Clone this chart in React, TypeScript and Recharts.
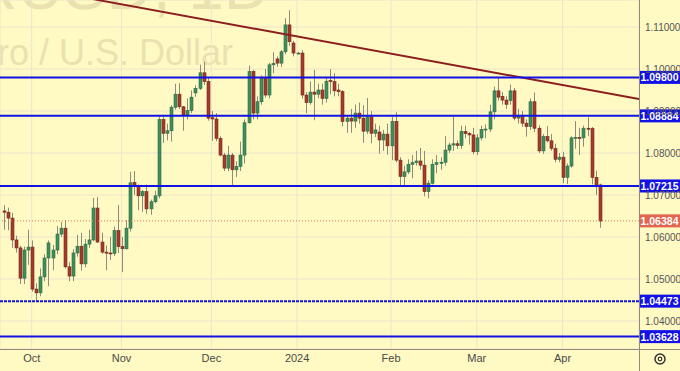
import { ComposedChart, Bar, XAxis, YAxis, CartesianGrid, ReferenceLine } from 'recharts';

// EUR/USD daily, 21 Sep 2023 – 12 Apr 2024
const dates = [
  '2023-09-21', '2023-09-22', '2023-09-25', '2023-09-26', '2023-09-27', '2023-09-28', '2023-09-29',
  '2023-10-02', '2023-10-03', '2023-10-04', '2023-10-05', '2023-10-06', '2023-10-09', '2023-10-10', '2023-10-11',
  '2023-10-12', '2023-10-13', '2023-10-16', '2023-10-17', '2023-10-18', '2023-10-19', '2023-10-20', '2023-10-23',
  '2023-10-24', '2023-10-25', '2023-10-26', '2023-10-27', '2023-10-30', '2023-10-31',
  '2023-11-01', '2023-11-02', '2023-11-03', '2023-11-06', '2023-11-07', '2023-11-08', '2023-11-09', '2023-11-10',
  '2023-11-13', '2023-11-14', '2023-11-15', '2023-11-16', '2023-11-17', '2023-11-20', '2023-11-21', '2023-11-22',
  '2023-11-23', '2023-11-24', '2023-11-27', '2023-11-28', '2023-11-29', '2023-11-30',
  '2023-12-01', '2023-12-04', '2023-12-05', '2023-12-06', '2023-12-07', '2023-12-08', '2023-12-11', '2023-12-12',
  '2023-12-13', '2023-12-14', '2023-12-15', '2023-12-18', '2023-12-19', '2023-12-20', '2023-12-21', '2023-12-22',
  '2023-12-25', '2023-12-26', '2023-12-27', '2023-12-28', '2023-12-29',
  '2024-01-01', '2024-01-02', '2024-01-03', '2024-01-04', '2024-01-05', '2024-01-08', '2024-01-09', '2024-01-10',
  '2024-01-11', '2024-01-12', '2024-01-15', '2024-01-16', '2024-01-17', '2024-01-18', '2024-01-19', '2024-01-22',
  '2024-01-23', '2024-01-24', '2024-01-25', '2024-01-26', '2024-01-29', '2024-01-30', '2024-01-31',
  '2024-02-01', '2024-02-02', '2024-02-05', '2024-02-06', '2024-02-07', '2024-02-08', '2024-02-09', '2024-02-12',
  '2024-02-13', '2024-02-14', '2024-02-15', '2024-02-16', '2024-02-19', '2024-02-20', '2024-02-21', '2024-02-22',
  '2024-02-23', '2024-02-26', '2024-02-27', '2024-02-28', '2024-02-29',
  '2024-03-01', '2024-03-04', '2024-03-05', '2024-03-06', '2024-03-07', '2024-03-08', '2024-03-11', '2024-03-12',
  '2024-03-13', '2024-03-14', '2024-03-15', '2024-03-18', '2024-03-19', '2024-03-20', '2024-03-21', '2024-03-22',
  '2024-03-25', '2024-03-26', '2024-03-27', '2024-03-28', '2024-03-29',
  '2024-04-01', '2024-04-02', '2024-04-03', '2024-04-04', '2024-04-05', '2024-04-08', '2024-04-09', '2024-04-10',
  '2024-04-11', '2024-04-12',
];

const opens = [
  1.0662, 1.0659, 1.0645, 1.0593, 1.0574, 1.0502, 1.0569,
  1.0576, 1.0476, 1.0467, 1.0505, 1.0550, 1.0550, 1.0569, 1.0607, 1.0621, 1.0529, 1.0507, 1.0562, 1.0578, 1.0536,
  1.0583, 1.0593, 1.0669, 1.0588, 1.0564, 1.0562, 1.0561, 1.0615,
  1.0577, 1.0572, 1.0621, 1.0730, 1.0720, 1.0698, 1.0708, 1.0667, 1.0684, 1.0698, 1.0880, 1.0847, 1.0853, 1.0909,
  1.0940, 1.0910, 1.0890, 1.0901, 1.0943, 1.0954, 1.0991, 1.0970,
  1.0884, 1.0881, 1.0835, 1.0795, 1.0764, 1.0795, 1.0760, 1.0768, 1.0795, 1.0872, 1.0994, 1.0895, 1.0922, 1.0980,
  1.0938, 1.1010, 1.1024, 1.1014, 1.1041, 1.1105, 1.1062,
  1.1038, 1.1038, 1.0938, 1.0920, 1.0945, 1.0940, 1.0950, 1.0930, 1.0973, 1.0970, 1.0950, 1.0946, 1.0875, 1.0883,
  1.0876, 1.0895, 1.0883, 1.0852, 1.0886, 1.0847, 1.0850, 1.0831, 1.0845,
  1.0817, 1.0875, 1.0783, 1.0744, 1.0755, 1.0773, 1.0777, 1.0781, 1.0771, 1.0708, 1.0728, 1.0773, 1.0775, 1.0778,
  1.0807, 1.0819, 1.0822, 1.0818, 1.0851, 1.0846, 1.0843,
  1.0803, 1.0836, 1.0856, 1.0857, 1.0898, 1.0948, 1.0935, 1.0926, 1.0925, 1.0948, 1.0883, 1.0890, 1.0871, 1.0863,
  1.0922, 1.0859, 1.0805, 1.0839, 1.0829, 1.0811, 1.0785,
  1.0790, 1.0742, 1.0769, 1.0836, 1.0837, 1.0836, 1.0859, 1.0858, 1.0742, 1.0724,
];

const highs = [
  1.0676, 1.0670, 1.0657, 1.0603, 1.0579, 1.0577, 1.0617,
  1.0592, 1.0490, 1.0525, 1.0559, 1.0592, 1.0581, 1.0626, 1.0636, 1.0640, 1.0540, 1.0571, 1.0605, 1.0610, 1.0595,
  1.0617, 1.0693, 1.0695, 1.0610, 1.0580, 1.0600, 1.0625, 1.0676,
  1.0600, 1.0640, 1.0755, 1.0757, 1.0725, 1.0712, 1.0725, 1.0689, 1.0710, 1.0887, 1.0887, 1.0870, 1.0914, 1.0965,
  1.0966, 1.0912, 1.0930, 1.0949, 1.0961, 1.1010, 1.1017, 1.0980,
  1.0900, 1.0895, 1.0840, 1.0800, 1.0817, 1.0800, 1.0780, 1.0827, 1.0880, 1.1008, 1.0998, 1.0935, 1.0985, 1.1000,
  1.1015, 1.1040, 1.1030, 1.1045, 1.1121, 1.1140, 1.1067,
  1.1041, 1.1045, 1.0945, 1.0970, 1.0998, 1.0965, 1.0965, 1.0978, 1.1000, 1.0990, 1.0965, 1.0950, 1.0890, 1.0905,
  1.0915, 1.0920, 1.0914, 1.0931, 1.0900, 1.0870, 1.0865, 1.0855, 1.0870,
  1.0886, 1.0897, 1.0790, 1.0770, 1.0785, 1.0795, 1.0805, 1.0812, 1.0805, 1.0735, 1.0785, 1.0795, 1.0790, 1.0840,
  1.0825, 1.0887, 1.0830, 1.0865, 1.0865, 1.0850, 1.0860,
  1.0845, 1.0865, 1.0868, 1.0915, 1.0958, 1.0981, 1.0945, 1.0935, 1.0963, 1.0955, 1.0905, 1.0900, 1.0880, 1.0930,
  1.0944, 1.0866, 1.0845, 1.0864, 1.0845, 1.0822, 1.0800,
  1.0803, 1.0775, 1.0840, 1.0876, 1.0860, 1.0865, 1.0885, 1.0862, 1.0758, 1.0727,
];

const lows = [
  1.0617, 1.0616, 1.0574, 1.0563, 1.0488, 1.0488, 1.0534,
  1.0470, 1.0448, 1.0459, 1.0495, 1.0483, 1.0521, 1.0559, 1.0600, 1.0525, 1.0495, 1.0495, 1.0553, 1.0520, 1.0528,
  1.0574, 1.0590, 1.0586, 1.0560, 1.0521, 1.0545, 1.0555, 1.0562,
  1.0517, 1.0570, 1.0613, 1.0700, 1.0664, 1.0660, 1.0655, 1.0653, 1.0680, 1.0692, 1.0824, 1.0830, 1.0827, 1.0903,
  1.0905, 1.0853, 1.0880, 1.0895, 1.0934, 1.0950, 1.0962, 1.0877,
  1.0829, 1.0828, 1.0792, 1.0757, 1.0757, 1.0724, 1.0743, 1.0757, 1.0775, 1.0870, 1.0880, 1.0880, 1.0915, 1.0932,
  1.0930, 1.0990, 1.1005, 1.1005, 1.1035, 1.1055, 1.1030,
  1.1035, 1.0930, 1.0895, 1.0915, 1.0878, 1.0930, 1.0915, 1.0920, 1.0940, 1.0935, 1.0935, 1.0863, 1.0848, 1.0848,
  1.0860, 1.0870, 1.0824, 1.0845, 1.0823, 1.0838, 1.0798, 1.0805, 1.0796,
  1.0783, 1.0778, 1.0724, 1.0724, 1.0750, 1.0740, 1.0770, 1.0760, 1.0697, 1.0692, 1.0725, 1.0752, 1.0760, 1.0770,
  1.0800, 1.0805, 1.0810, 1.0810, 1.0835, 1.0820, 1.0797,
  1.0795, 1.0830, 1.0835, 1.0850, 1.0880, 1.0925, 1.0915, 1.0905, 1.0915, 1.0878, 1.0870, 1.0862, 1.0839, 1.0855,
  1.0850, 1.0800, 1.0798, 1.0825, 1.0805, 1.0778, 1.0778,
  1.0728, 1.0726, 1.0765, 1.0810, 1.0795, 1.0815, 1.0840, 1.0725, 1.0700, 1.0622,
];

const closes = [
  1.0659, 1.0645, 1.0593, 1.0574, 1.0502, 1.0569, 1.0576,
  1.0476, 1.0467, 1.0505, 1.0550, 1.0586, 1.0569, 1.0607, 1.0621, 1.0529, 1.0507, 1.0562, 1.0578, 1.0536, 1.0583,
  1.0593, 1.0669, 1.0588, 1.0564, 1.0562, 1.0561, 1.0615, 1.0577,
  1.0572, 1.0621, 1.0729, 1.0720, 1.0698, 1.0708, 1.0667, 1.0684, 1.0698, 1.0880, 1.0847, 1.0853, 1.0909, 1.0940,
  1.0910, 1.0890, 1.0901, 1.0933, 1.0954, 1.0991, 1.0970, 1.0883,
  1.0881, 1.0835, 1.0795, 1.0764, 1.0795, 1.0760, 1.0768, 1.0795, 1.0872, 1.0994, 1.0895, 1.0922, 1.0980, 1.0938,
  1.1010, 1.1013, 1.1014, 1.1041, 1.1105, 1.1065, 1.1038,
  1.1038, 1.0938, 1.0920, 1.0945, 1.0940, 1.0950, 1.0930, 1.0971, 1.0970, 1.0948, 1.0946, 1.0875, 1.0883, 1.0876,
  1.0895, 1.0883, 1.0852, 1.0886, 1.0847, 1.0855, 1.0831, 1.0845, 1.0817,
  1.0875, 1.0783, 1.0744, 1.0755, 1.0773, 1.0777, 1.0781, 1.0771, 1.0708, 1.0728, 1.0773, 1.0777, 1.0778, 1.0807,
  1.0819, 1.0822, 1.0818, 1.0851, 1.0846, 1.0843, 1.0803,
  1.0836, 1.0856, 1.0857, 1.0898, 1.0948, 1.0933, 1.0926, 1.0916, 1.0948, 1.0883, 1.0890, 1.0871, 1.0863, 1.0922,
  1.0859, 1.0805, 1.0839, 1.0829, 1.0811, 1.0785, 1.0790,
  1.0742, 1.0769, 1.0836, 1.0837, 1.0836, 1.0859, 1.0858, 1.0742, 1.0724, 1.0638,
];

const MONTHS = ['2024', 'Feb', 'Mar', 'Apr', 'May', 'Jun', 'Jul', 'Aug', 'Sep', 'Oct', 'Nov', 'Dec'];
const priceTicks = [1.04, 1.05, 1.06, 1.07, 1.08, 1.09, 1.10, 1.11];
const levels = [1.098, 1.08884, 1.07215, 1.04473, 1.03628];
const lastPrice = 1.06384;
// trend line anchors: [bar index, price]
const trendStart = [22, 1.11664];
const trendEnd = [155.72, 1.09286];

const BG = '#fff9c4';
const GRID = '#ebe6cb';
const UP = '#3f8f5e';
const UP_EDGE = '#2c6a44';
const DOWN = '#a63b2b';
const DOWN_EDGE = '#76271c';
const WICK = '#8d8b7d';
const LEVEL = '#1212e6';
const WATERMARK = '#eae1b0';
const FONT = '"Liberation Sans", Arial, sans-serif';

const rows = dates.map((date, i) => ({
  i,
  date,
  open: opens[i],
  high: highs[i],
  low: lows[i],
  close: closes[i],
  range: [lows[i], highs[i]],
}));

const monthStarts = dates
  .map((d, i) => (i > 0 && d.slice(5, 7) !== dates[i - 1].slice(5, 7) ? i : -1))
  .filter((i) => i >= 0);

function Candle(props: any) {
  const { x, y, width, height, payload } = props;
  if (!payload) return null;
  const { open, close, high, low } = payload;
  const yTop = Math.min(y, y + height);
  const yBot = Math.max(y, y + height);
  const span = high - low || 1e-9;
  const py = (v: number) => yTop + ((high - v) / span) * (yBot - yTop);
  const up = close >= open;
  const cx = Math.round(x + width / 2) + 0.5;
  const bTop = py(Math.max(open, close));
  const bBot = py(Math.min(open, close));
  return (
    <g>
      <line x1={cx} x2={cx} y1={yTop} y2={yBot} stroke={WICK} strokeWidth={1} />
      <rect
        x={cx - 1.5}
        y={bTop}
        width={3}
        height={Math.max(bBot - bTop, 1)}
        fill={up ? UP : DOWN}
        stroke={up ? UP_EDGE : DOWN_EDGE}
        strokeWidth={0.6}
      />
    </g>
  );
}

function PriceTag(props: any) {
  const { viewBox, value, bg } = props;
  if (!viewBox) return null;
  const x = viewBox.x + viewBox.width;
  const y = viewBox.y;
  return (
    <g>
      <rect x={x} y={y - 6.5} width={41} height={13} fill={bg} />
      <text
        x={x + 20.5}
        y={y + 4}
        textAnchor="middle"
        fill="#fff"
        fontSize={10.5}
        fontWeight="bold"
        fontFamily={FONT}
      >
        {value.toFixed(5)}
      </text>
    </g>
  );
}

export default function App() {
  return (
    <div style={{ position: 'fixed', left: 0, top: 0, width: 680, height: 371, background: BG, overflow: 'hidden' }}>
      <svg width={680} height={371} style={{ position: 'absolute', left: 0, top: 0 }}>
        <text x={270} y={9} textAnchor="end" fontSize={64} fill={WATERMARK} fontFamily={FONT}>
          EURUSD, 1D
        </text>
        <text x={233} y={65} textAnchor="end" fontSize={36} fill={WATERMARK} fontFamily={FONT}>
          Euro / U.S. Dollar
        </text>
      </svg>
      <div style={{ position: 'absolute', left: 0, top: 0 }}>
        <ComposedChart width={680} height={371} data={rows} margin={{ top: 0, right: 0, bottom: 0, left: 0 }}>
          <CartesianGrid stroke={GRID} strokeWidth={1} />
          <XAxis
            dataKey="i"
            type="number"
            domain={[-0.76, 155.72]}
            allowDataOverflow
            ticks={monthStarts}
            tickFormatter={(v: number) => MONTHS[Number(dates[v].slice(5, 7)) - 1]}
            height={22}
            axisLine={false}
            tickLine={false}
            tickSize={0}
            tickMargin={5}
            tick={{ fill: '#4a4a4a', fontSize: 11, fontFamily: FONT }}
          />
          <YAxis
            orientation="right"
            type="number"
            domain={[1.033333, 1.116429]}
            allowDataOverflow
            ticks={priceTicks}
            tickFormatter={(v: number) => v.toFixed(5)}
            width={41}
            axisLine={false}
            tickLine={false}
            tickSize={0}
            tickMargin={6}
            tick={{ fill: '#555', fontSize: 10, fontFamily: FONT }}
          />
          <Bar dataKey="range" barSize={3} shape={<Candle />} isAnimationActive={false} />
          <ReferenceLine
            segment={[
              { x: trendStart[0], y: trendStart[1] },
              { x: trendEnd[0], y: trendEnd[1] },
            ]}
            ifOverflow="hidden"
            stroke="#8b1f1f"
            strokeWidth={2}
          />
          <ReferenceLine
            y={lastPrice}
            stroke="#e0735a"
            strokeDasharray="1 2"
            strokeWidth={1}
            label={<PriceTag value={lastPrice} bg="#e2654f" />}
          />
          {levels.map((lv, k) => (
            <ReferenceLine
              key={lv}
              y={lv}
              stroke={LEVEL}
              strokeWidth={2}
              strokeDasharray={k === 3 ? '3 1' : undefined}
              label={<PriceTag value={lv} bg={LEVEL} />}
            />
          ))}
        </ComposedChart>
      </div>
      <svg width={680} height={371} style={{ position: 'absolute', left: 0, top: 0, pointerEvents: 'none' }}>
        <line x1={0} x2={680} y1={349.5} y2={349.5} stroke="#8f8c7c" />
        <line x1={639.5} x2={639.5} y1={0} y2={371} stroke="#8f8c7c" />
        <circle cx={660} cy={359} r={5} fill="none" stroke="#333" strokeWidth={1.5} />
        <circle cx={660} cy={359} r={1.8} fill="none" stroke="#333" strokeWidth={1.2} />
      </svg>
    </div>
  );
}
